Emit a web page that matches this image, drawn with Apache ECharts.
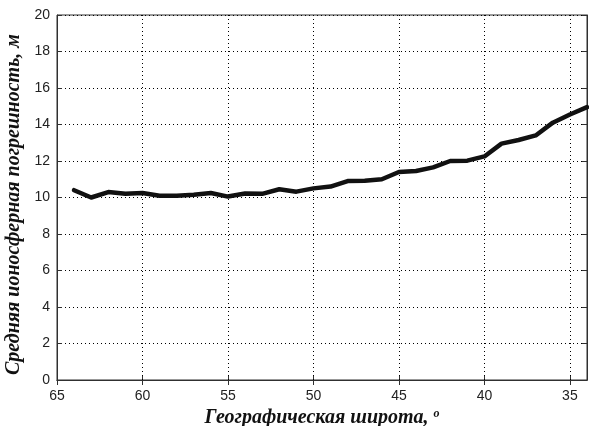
<!DOCTYPE html>
<html>
<head>
<meta charset="utf-8">
<script src="https://cdn.jsdelivr.net/npm/echarts@6/dist/echarts.min.js"></script>
<style>html,body{margin:0;padding:0;background:#fff}#c{width:589px;height:426px}</style>
</head>
<body>
<div id="c"></div>
<script>
const latitudes = [64,63,62,61,60,59,58,57,56,55,54,53,52,51,50,49,48,47,46,45,44,43,42,41,40,39,38,37,36,35,34];
const errorMeters = [10.4,10.0,10.3,10.2,10.25,10.1,10.1,10.15,10.25,10.05,10.22,10.2,10.45,10.32,10.5,10.6,10.9,10.92,11.0,11.4,11.45,11.65,12.0,12.02,12.25,12.95,13.15,13.4,14.1,14.55,14.95];
const xTicks = [35,40,45,50,55,60,65];
const xLabel = 'Географическая широта, ';
const yLabel = 'Средняя ионосферная погрешность, м';

const chart = echarts.init(document.getElementById('c'), null, {renderer:'canvas'});
const axisLineStyle = {color:'#303030', width:1};
const gridLine = {show:true, lineStyle:{color:'#000', width:1, type:[1,3]}};
chart.setOption({
  animation:false,
  backgroundColor:'#fff',
  grid:{left:57, right:2, top:15, bottom:46, show:true, borderColor:'#303030', borderWidth:1,
        containLabel:false, outerBoundsMode:'none'},
  xAxis:[{
    type:'value', min:34, max:65, inverse:true,
    axisLine:{show:true, lineStyle:axisLineStyle},
    axisTick:{show:true, inside:true, length:5, lineStyle:axisLineStyle, customValues:xTicks},
    axisLabel:{margin:9, fontFamily:'Liberation Sans', fontSize:14, color:'#222', customValues:xTicks},
    splitLine:{show:false},
    name:'{t|'+xLabel+'}{s|o}', nameLocation:'middle', nameGap:25,
    nameTextStyle:{rich:{
      t:{fontFamily:'Liberation Serif', fontSize:20, lineHeight:20, fontWeight:'bold', fontStyle:'italic', color:'#111'},
      s:{fontFamily:'Liberation Serif', fontSize:12, lineHeight:20, fontWeight:'bold', fontStyle:'italic', color:'#111', verticalAlign:'top', padding:[0,0,10,0]}
    }}
  },{
    type:'value', min:34, max:65, inverse:true, position:'top',
    axisLine:{show:true, lineStyle:axisLineStyle},
    axisTick:{show:true, inside:true, length:5, lineStyle:axisLineStyle, customValues:xTicks},
    axisLabel:{show:false}, splitLine:{show:false}
  }],
  yAxis:[{
    type:'value', min:0, max:20, interval:2,
    axisLine:{show:true, lineStyle:axisLineStyle},
    axisTick:{show:true, inside:true, length:5, lineStyle:axisLineStyle},
    axisLabel:{margin:7, fontFamily:'Liberation Sans', fontSize:14, color:'#222'},
    splitLine:gridLine,
    name:yLabel, nameLocation:'middle', nameGap:28,
    nameTextStyle:{fontFamily:'Liberation Serif', fontSize:20, fontWeight:'bold', fontStyle:'italic', color:'#111', padding:[0,14,0,0]}
  },{
    type:'value', min:0, max:20, interval:2, position:'right',
    axisLine:{show:true, lineStyle:axisLineStyle},
    axisTick:{show:true, inside:true, length:5, lineStyle:axisLineStyle},
    axisLabel:{show:false}, splitLine:{show:false}
  }],
  series:[{
    type:'line', xAxisIndex:0, yAxisIndex:0,
    data:latitudes.map((l,i)=>[l, errorMeters[i]]),
    showSymbol:false, smooth:false, z:3,
    lineStyle:{color:'#111', width:4.5, join:'round', cap:'round'},
    markLine:{
      silent:true, symbol:'none', label:{show:false}, z:1,
      lineStyle:{color:'#000', width:1, type:[1,3]},
      data:xTicks.slice(0,6).map(v=>({xAxis:v}))
    }
  }]
});
</script>
</body>
</html>
